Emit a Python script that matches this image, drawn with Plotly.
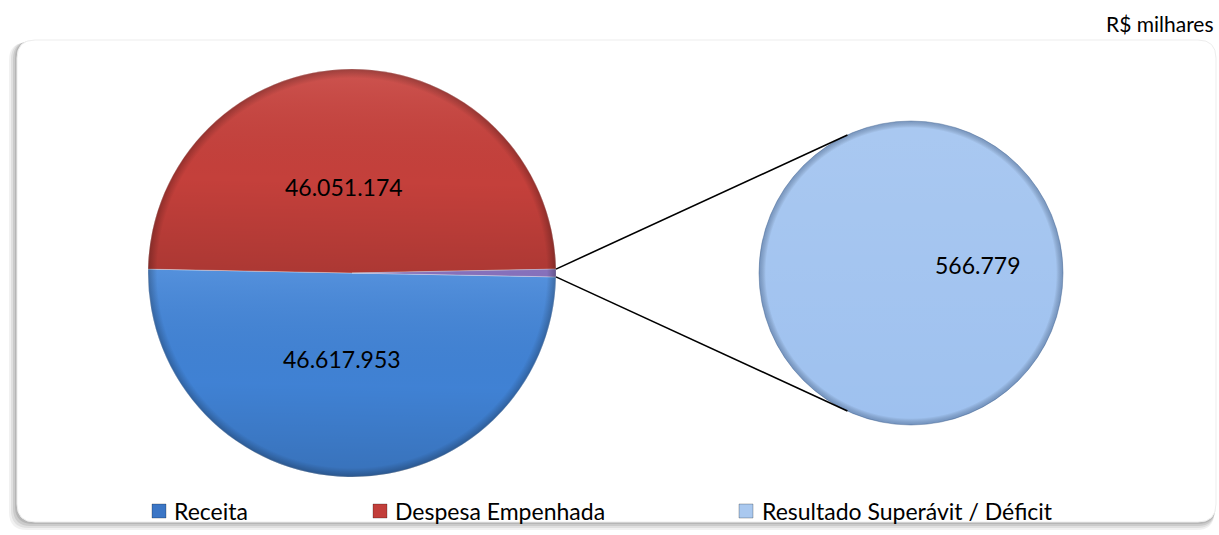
import math
import base64
import plotly.graph_objects as go

# ---------------- data ----------------
categories = ["Receita", "Despesa Empenhada", "Resultado Superávit / Déficit"]
values = [46617953, 46051174, 566779]
unit_label = "R$ milhares"

# ---------------- style / layout ----------------
W, H = 1219, 535
FONT = "Lato, 'Open Sans', sans-serif"
main_colors = ["#4184D8", "#C8413C", "#9B82D8"]
second_color = "#9EC1EF"
legend_colors = ["#3B76C6", "#C23E3A", "#A9C8EF"]

L_cx, L_cy, L_r = 352, 273, 204     # primary pie (pixels)
R_cx, R_cy, R_r = 911, 273, 152     # secondary pie (pixels)
LABEL_K = 0.42


def px(x):
    return x / W


def py(y):
    return 1 - y / H


def fmt(v):
    return f"{v:,}".replace(",", ".")


total = sum(values)
frac_other = values[2] / total
rotation = 90 + frac_other * 180          # "other" slice centred at 3 o'clock

fig = go.Figure()

fig.add_trace(go.Pie(
    labels=categories, values=values, sort=False, direction="clockwise",
    rotation=rotation, textinfo="none", hoverinfo="label+value",
    marker=dict(colors=main_colors, line=dict(color="rgba(255,255,255,0.35)", width=1)),
    domain=dict(x=[px(L_cx - L_r), px(L_cx + L_r)], y=[py(L_cy + L_r), py(L_cy - L_r)]),
    showlegend=False,
))
fig.add_trace(go.Pie(
    labels=[categories[2]], values=[values[2]], sort=False, direction="clockwise",
    rotation=270, textinfo="none", hoverinfo="label+value",
    marker=dict(colors=[second_color], line=dict(color="rgba(90,120,160,0.5)", width=1)),
    domain=dict(x=[px(R_cx - R_r), px(R_cx + R_r)], y=[py(R_cy + R_r), py(R_cy - R_r)]),
    showlegend=False,
))

# slice angles (degrees, clockwise from 12 o'clock)
angles = []
a = rotation
for v in values:
    span = v / total * 360
    angles.append((a, a + span))
    a += span


def pt(cx, cy, r, deg):
    t = math.radians(deg)
    return cx + r * math.sin(t), cy - r * math.cos(t)


annotations = []
label_font = dict(family=FONT, size=23, color="#000000")
for i in range(2):
    mid = (angles[i][0] + angles[i][1]) / 2
    x, y = pt(L_cx, L_cy, L_r * LABEL_K, mid)
    annotations.append(dict(x=px(x - 8), y=py(y), xref="paper", yref="paper", text=fmt(values[i]),
                            xanchor="center", yanchor="middle", showarrow=False, font=label_font))
x, y = pt(R_cx, R_cy, R_r * 0.44, 90)
annotations.append(dict(x=px(x), y=py(y - 8), xref="paper", yref="paper", text=fmt(values[2]),
                        xanchor="center", yanchor="middle", showarrow=False, font=label_font))

annotations.append(dict(x=px(1216), y=py(24), xref="paper", yref="paper", text=unit_label,
                        xanchor="right", yanchor="middle", showarrow=False,
                        font=dict(family=FONT, size=21, color="#000000")))

shapes = []


def rrect(x0, y0, x1, y1, r):
    p = [
        f"M {px(x0 + r)},{py(y0)}",
        f"L {px(x1 - r)},{py(y0)}",
        f"Q {px(x1)},{py(y0)} {px(x1)},{py(y0 + r)}",
        f"L {px(x1)},{py(y1 - r)}",
        f"Q {px(x1)},{py(y1)} {px(x1 - r)},{py(y1)}",
        f"L {px(x0 + r)},{py(y1)}",
        f"Q {px(x0)},{py(y1)} {px(x0)},{py(y1 - r)}",
        f"L {px(x0)},{py(y0 + r)}",
        f"Q {px(x0)},{py(y0)} {px(x0 + r)},{py(y0)}",
        "Z",
    ]
    return " ".join(p)


for off, op in [(8, 0.10), (6, 0.14), (4, 0.20), (2, 0.25)]:
    shapes.append(dict(type="path", xref="paper", yref="paper", layer="below",
                       path=rrect(17 - off, 40 + off * 0.3, 1216 - off * 0.2, 522 + off, 18),
                       fillcolor="rgba(120,120,120,1)", opacity=op, line=dict(width=0)))
shapes.append(dict(type="path", xref="paper", yref="paper", layer="below",
                   path=rrect(17, 40, 1216, 522, 18), fillcolor="#FFFFFF",
                   line=dict(color="#EDEDED", width=1)))

p_up = pt(L_cx, L_cy, L_r, angles[2][0])
p_dn = pt(L_cx, L_cy, L_r, angles[2][1])


def tangent(P, upper):
    dx, dy = P[0] - R_cx, P[1] - R_cy
    D = math.hypot(dx, dy)
    phi = math.atan2(dy, dx)
    th = math.acos(R_r / D)
    cands = [(R_cx + R_r * math.cos(phi + s * th), R_cy + R_r * math.sin(phi + s * th)) for s in (1, -1)]
    cands.sort(key=lambda q: q[1])
    return cands[0] if upper else cands[1]


for P, up in [(p_up, True), (p_dn, False)]:
    T = tangent(P, up)
    shapes.append(dict(type="line", xref="paper", yref="paper", layer="above",
                       x0=px(P[0]), y0=py(P[1]), x1=px(T[0]), y1=py(T[1]),
                       line=dict(color="#000000", width=1.6)))

legend_marker_x = [152, 373, 739]
legend_text_x = [172, 393, 760]
LEG_Y = 511
for i, name in enumerate(categories):
    x0 = legend_marker_x[i]
    shapes.append(dict(type="rect", xref="paper", yref="paper", layer="above",
                       x0=px(x0), x1=px(x0 + 14), y0=py(LEG_Y - 7), y1=py(LEG_Y + 7),
                       fillcolor=legend_colors[i], line=dict(color="rgba(0,0,0,0.25)", width=1)))
    annotations.append(dict(x=px(legend_text_x[i]), y=py(LEG_Y), xref="paper", yref="paper",
                            text=name, xanchor="left", yanchor="middle", showarrow=False,
                            font=dict(family=FONT, size=23, color="#000000")))


# ---- soft shading overlays (bevel look) ----
def svg_uri(svg):
    return "data:image/svg+xml;base64," + base64.b64encode(svg.encode()).decode()


tilt = rotation - 90  # small tilt of the split line (clockwise on screen)
left_svg = f"""<svg xmlns='http://www.w3.org/2000/svg' width='400' height='400' viewBox='0 0 100 100' preserveAspectRatio='none'>
<defs>
<linearGradient id='g' x1='0' y1='0' x2='0' y2='1'>
<stop offset='0' stop-color='#ffffff' stop-opacity='0.10'/>
<stop offset='0.55' stop-color='#000000' stop-opacity='0.02'/>
<stop offset='1' stop-color='#000000' stop-opacity='0.14'/></linearGradient>
<radialGradient id='rim' cx='50' cy='50' r='50' gradientUnits='userSpaceOnUse'>
<stop offset='0.955' stop-color='#000000' stop-opacity='0'/>
<stop offset='1' stop-color='#000000' stop-opacity='0.25'/></radialGradient>
</defs>
<g transform='rotate({tilt:.3f} 50 50)'>
<path d='M0,50 A50,50 0 0 1 100,50 Z' fill='url(#g)'/>
<path d='M0,50 A50,50 0 0 0 100,50 Z' fill='url(#g)'/>
</g>
<circle cx='50' cy='50' r='50' fill='url(#rim)'/>
</svg>"""

right_svg = """<svg xmlns='http://www.w3.org/2000/svg' width='400' height='400' viewBox='0 0 100 100' preserveAspectRatio='none'>
<defs>
<linearGradient id='g' x1='0' y1='0' x2='0' y2='1'>
<stop offset='0' stop-color='#ffffff' stop-opacity='0.12'/>
<stop offset='1' stop-color='#ffffff' stop-opacity='0'/></linearGradient>
<radialGradient id='rim' cx='50' cy='50' r='50' gradientUnits='userSpaceOnUse'>
<stop offset='0.955' stop-color='#000000' stop-opacity='0'/>
<stop offset='1' stop-color='#1c3a66' stop-opacity='0.35'/></radialGradient>
</defs>
<circle cx='50' cy='50' r='50' fill='url(#g)'/>
<circle cx='50' cy='50' r='50' fill='url(#rim)'/>
</svg>"""

images = [
    dict(source=svg_uri(left_svg), xref="paper", yref="paper",
         x=px(L_cx - L_r), y=py(L_cy - L_r), sizex=2 * L_r / W, sizey=2 * L_r / H,
         sizing="stretch", xanchor="left", yanchor="top", layer="above"),
    dict(source=svg_uri(right_svg), xref="paper", yref="paper",
         x=px(R_cx - R_r), y=py(R_cy - R_r), sizex=2 * R_r / W, sizey=2 * R_r / H,
         sizing="stretch", xanchor="left", yanchor="top", layer="above"),
]

fig.update_layout(
    width=W, height=H, margin=dict(l=0, r=0, t=0, b=0),
    paper_bgcolor="#FFFFFF", plot_bgcolor="#FFFFFF",
    annotations=annotations, shapes=shapes, images=images, showlegend=False,
    font=dict(family=FONT),
)

fig.write_html(
    "out.html",
    config={"displayModeBar": False},
    post_script="document.body.style.margin='0';document.body.style.overflow='hidden';",
)
